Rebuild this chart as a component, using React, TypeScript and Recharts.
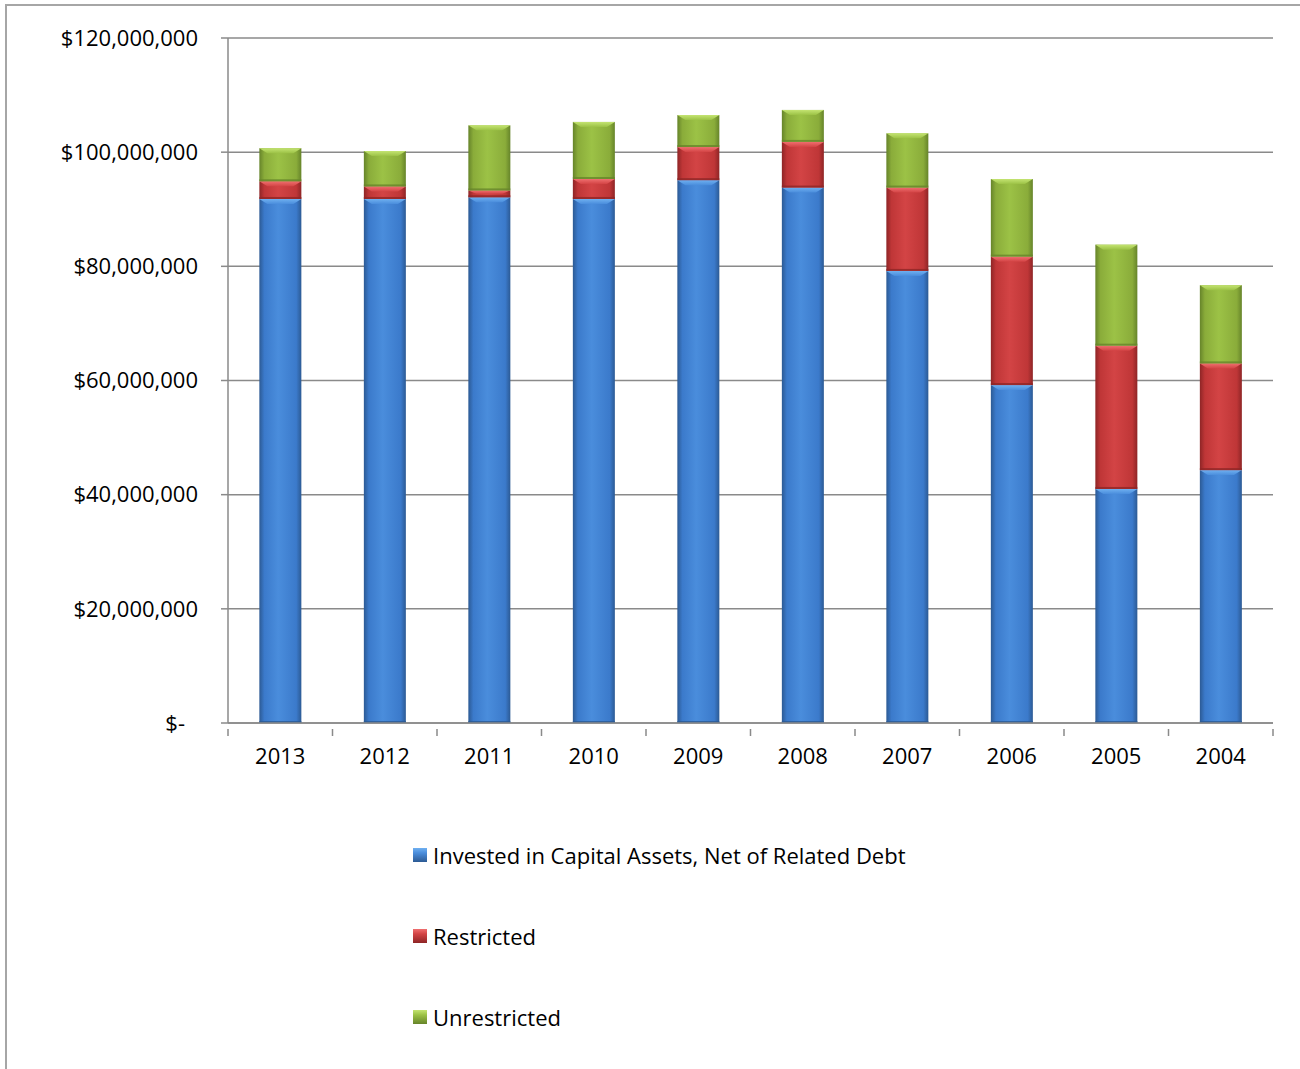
import { Bar, BarChart, CartesianGrid, XAxis, YAxis } from "recharts";

// values in millions of dollars
const years = ["2013", "2012", "2011", "2010", "2009", "2008", "2007", "2006", "2005", "2004"];
const invested = [91.8, 91.8, 92.1, 91.8, 95.1, 93.8, 79.2, 59.2, 41.0, 44.3];
const restricted = [3.1, 2.2, 1.2, 3.5, 5.8, 8.0, 14.6, 22.5, 25.1, 18.7];
const unrestricted = [5.8, 6.2, 11.4, 10.0, 5.6, 5.6, 9.5, 13.6, 17.7, 13.7];
const yTicks = [0, 20e6, 40e6, 60e6, 80e6, 100e6, 120e6];

const series = [
  { key: "invested", name: "Invested in Capital Assets, Net of Related Debt", dark: "#2c5a94", mid: "#3b7acb", light: "#4a8ddc", top: "#6fb0f0" },
  { key: "restricted", name: "Restricted", dark: "#8e2526", mid: "#bf3637", light: "#d34445", top: "#ef6f6f" },
  { key: "unrestricted", name: "Unrestricted", dark: "#66842a", mid: "#8aac3a", light: "#9cc246", top: "#c4e472" },
];

const data = years.map((y, i) => ({
  year: y,
  invested: invested[i] * 1e6,
  restricted: restricted[i] * 1e6,
  unrestricted: unrestricted[i] * 1e6,
}));

const FONT = "'Open Sans', sans-serif";
const FS = 22;
const AXIS = "#8a8a8a";

function fmtMoney(v: number) {
  return "$" + v.toLocaleString("en-US");
}

function darkOf(key: string) {
  return (series.find((s) => s.key === key) || series[0]).dark;
}

function YTick({ x, y, payload }: any) {
  const zero = payload.value === 0;
  return (
    <text x={zero ? x - 13 : x} y={y} dy="0.35em" textAnchor="end" fill="#000" fontSize={FS} fontFamily={FONT}>
      {zero ? "$-" : fmtMoney(payload.value)}
    </text>
  );
}

function XTick({ x, y, payload, index, visibleTicksCount }: any) {
  const half = payload.offset ?? 0;
  const last = index === visibleTicksCount - 1;
  return (
    <g>
      <line x1={x - half} x2={x - half} y1={y - 19} y2={y - 12} stroke={AXIS} strokeWidth={1.5} />
      {last && <line x1={x + half} x2={x + half} y1={y - 19} y2={y - 12} stroke={AXIS} strokeWidth={1.5} />}
      <text x={x} y={y} dy="0.71em" textAnchor="middle" fill="#000" fontSize={FS} fontFamily={FONT}>
        {payload.value}
      </text>
    </g>
  );
}

function BevelBar(props: any) {
  const { x, y, width, height, gid } = props;
  if (!height || height <= 0) return null;
  const b = Math.min(8, width / 4);
  const t = Math.min(5, height / 2);
  return (
    <g>
      <rect x={x} y={y} width={width} height={height} fill={`url(#${gid}-body)`} />
      <polygon
        points={`${x},${y} ${x + width},${y} ${x + width - b},${y + t} ${x + b},${y + t}`}
        fill={`url(#${gid}-top)`}
      />
      <rect x={x} y={y + height - 2} width={width} height={2} fill={darkOf(gid)} opacity={0.8} />
    </g>
  );
}

export default function App() {
  return (
    <div style={{ position: "absolute", left: 0, top: 0, width: 1300, height: 1069, background: "#fff", overflow: "hidden" }}>
      <div
        style={{
          position: "absolute",
          left: 5,
          top: 4,
          width: 1400,
          height: 1100,
          borderTop: "2px solid #a6a6a6",
          borderLeft: "2px solid #a6a6a6",
          boxSizing: "border-box",
        }}
      />
      <BarChart
        width={1300}
        height={1069}
        data={data}
        margin={{ top: 38, right: 27, bottom: 0, left: 58 }}
        barCategoryGap="30%"
        style={{ position: "absolute", left: 0, top: 0 }}
      >
        <defs>
          {series.map((s) => (
            <g key={s.key}>
              <linearGradient id={`${s.key}-body`} x1="0" y1="0" x2="1" y2="0">
                <stop offset="0%" stopColor={s.dark} />
                <stop offset="12%" stopColor={s.mid} />
                <stop offset="45%" stopColor={s.light} />
                <stop offset="88%" stopColor={s.mid} />
                <stop offset="100%" stopColor={s.dark} />
              </linearGradient>
              <linearGradient id={`${s.key}-top`} x1="0" y1="0" x2="0" y2="1">
                <stop offset="0%" stopColor={s.top} />
                <stop offset="100%" stopColor={s.light} />
              </linearGradient>
            </g>
          ))}
        </defs>
        <CartesianGrid vertical={false} stroke={AXIS} strokeWidth={1.5} />
        <XAxis
          dataKey="year"
          stroke={AXIS}
          strokeWidth={1.5}
          tickLine={false}
          tick={<XTick />}
          tickMargin={19}
          height={346}
          interval={0}
        />
        <YAxis
          ticks={yTicks}
          domain={[0, 120e6]}
          width={170}
          stroke={AXIS}
          strokeWidth={1.5}
          tickSize={7}
          tickMargin={23}
          tick={<YTick />}
          interval={0}
        />
        {series.map((s) => (
          <Bar
            key={s.key}
            dataKey={s.key}
            name={s.name}
            stackId="a"
            fill={s.mid}
            shape={<BevelBar gid={s.key} />}
            isAnimationActive={false}
          />
        ))}
      </BarChart>
      <div style={{ position: "absolute", left: 413, top: 840, fontFamily: FONT, fontSize: FS, color: "#000" }}>
        {series.map((s, i) => (
          <div key={s.key} style={{ display: "flex", alignItems: "center", height: 30, marginBottom: i < 2 ? 51 : 0 }}>
            <span
              style={{
                display: "inline-block",
                width: 14,
                height: 14,
                marginRight: 6,
                background: `linear-gradient(180deg, ${s.top} 0%, ${s.light} 35%, ${s.dark} 100%)`,
              }}
            />
            {s.name}
          </div>
        ))}
      </div>
    </div>
  );
}
